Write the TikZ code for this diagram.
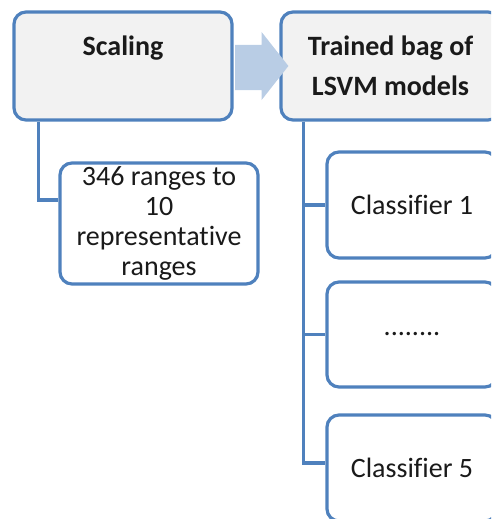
\documentclass[tikz,border=0pt]{standalone}
\usepackage{fontspec}
\setmainfont[Ligatures=NoCommon]{Carlito}
\usetikzlibrary{positioning,calc}
\definecolor{edge}{HTML}{4F81BD}
\definecolor{headfill}{HTML}{F2F2F2}
\definecolor{blockarr}{HTML}{B9CDE5}
\definecolor{ink}{HTML}{1A1A1A}
\tikzset{
  hd/.style   ={draw=edge, line width=3.2pt, fill=headfill, rounded corners=12pt,
                minimum height=108pt, align=center, text=ink, inner sep=0pt,
                font=\bfseries\fontsize{28}{40}\selectfont},
  leaf/.style ={draw=edge, line width=3.2pt, fill=white, rounded corners=12pt,
                minimum width=170pt, minimum height=106pt, align=center, text=ink,
                inner sep=0pt, font=\fontsize{28}{30}\selectfont},
  br/.style   ={draw=edge, line width=3.5pt},
  blk/.style  ={fill=blockarr},
}

\begin{document}
\begin{tikzpicture}[x=1pt,y=-1pt]
  \useasboundingbox (0,0) rectangle (491,519);
  \clip (0,0) rectangle (491,519);
  \node[hd,minimum width=218pt] (scaling) at (123,66)   {Scaling\\\mbox{}};
  \node[hd,minimum width=219pt] (trained) at (390.5,66) {Trained bag of\\LSVM models};
  \node[leaf,minimum width=198pt,minimum height=121pt] (ranges) at (159,223.5)
        {346 ranges to\\10\\representative\\ranges};
  \node[leaf] (c1)    at (412,205)   {Classifier 1};
  \node[leaf,minimum height=105pt] (cdots) at (412,334.5) {........};
  \node[leaf] (c5)    at (412,468)   {Classifier 5};
  % tree lines hang from the bottom edge of each head
  \coordinate (sroot) at ([xshift=26pt]scaling.south west);
  \coordinate (troot) at ([xshift=24pt]trained.south west);
  \draw[br] (sroot) |- ([yshift=23.5pt]ranges.west);
  \draw[br] (troot) |- (c1.west);
  \draw[br] (troot) |- (cdots.west);
  \draw[br] (troot) |- ([yshift=5pt]c5.west);
  % block arrow between the two heads
  \fill[blk] ($(scaling.east)+(1.6,-21)$) -- ($(scaling.east)+(28,-21)$)
        -- ($(scaling.east)+(28,-34)$) -- ($(trained.west)+(9,0)$)
        -- ($(scaling.east)+(28,34)$) -- ($(scaling.east)+(28,24)$)
        -- ($(scaling.east)+(1.6,24)$) -- cycle;
\end{tikzpicture}
\end{document}
